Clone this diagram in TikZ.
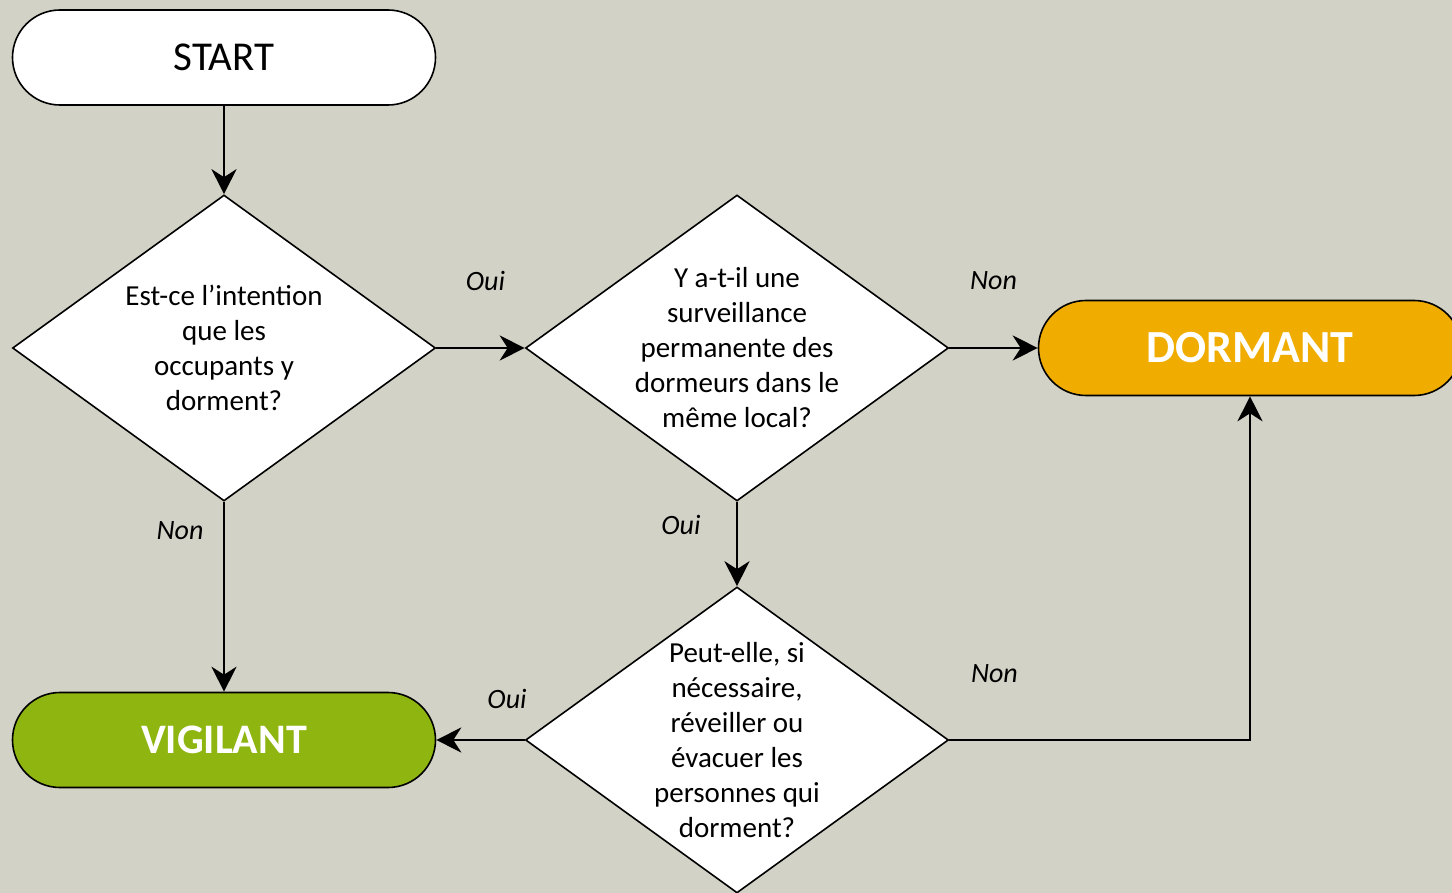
\documentclass[tikz,border=0pt]{standalone}
\usepackage{fontspec}
\setmainfont{Carlito}
\usetikzlibrary{arrows.meta,shapes.geometric,positioning}

\definecolor{bgtan}{RGB}{210,210,198}
\definecolor{dormantorange}{RGB}{240,173,0}
\definecolor{vigilantgreen}{RGB}{142,181,16}

\begin{document}
\begin{tikzpicture}[>={Stealth[length=12.5pt,width=12.5pt,inset=4pt]},line width=1.3pt,
                    term/.style={draw,line width=0.8pt,rounded corners=23.75pt,
                                 minimum width=211.5pt,minimum height=47.5pt,inner sep=0pt},
                    question/.style={diamond,draw,line width=0.8pt,fill=white,
                                     minimum width=211.5pt,minimum height=153pt,inner sep=0pt},
                    qtext/.style={align=center,font=\fontsize{14.5}{17.5}\selectfont},
                    answer/.style={font=\fontsize{14}{17}\selectfont\itshape}]
  \useasboundingbox[fill=bgtan] (0,0) rectangle (726pt,-446.5pt);
  \clip (0,0) rectangle (726pt,-446.5pt);

  \node[term,fill=white,font=\fontsize{20.5}{24}\selectfont] (start) at (112pt,-28.75pt) {START};
  \node[question,below of=start,node distance=145.25pt,
        label={[qtext]center:{Est-ce l’intention\\que les\\occupants y\\dorment?}}] (q1) {};
  \node[question,right of=q1,node distance=256.5pt,
        label={[qtext]center:{Y a-t-il une\\surveillance\\permanente des\\dormeurs dans le\\même local?}}] (q2) {};
  \node[term,fill=dormantorange,text=white,font=\fontsize{23}{27}\selectfont\bfseries,
        right of=q2,node distance=256.5pt] (dormant) {DORMANT};
  \node[question,below of=q2,node distance=196pt,
        label={[qtext]center:{Peut-elle, si\\nécessaire,\\réveiller ou\\évacuer les\\personnes qui\\dorment?}}] (q3) {};
  \node[term,fill=vigilantgreen,text=white,font=\fontsize{21}{25}\selectfont\bfseries,
        below of=q1,node distance=196pt] (vigilant) {VIGILANT};

  \draw[->] (start) -- (q1);
  \draw[->] (q1) -- node[answer,yshift=33.5pt,xshift=2.5pt] {Oui} (q2);
  \draw[->] (q2) -- node[answer,yshift=33.5pt] {Non} (dormant);
  \draw[->] (q1) -- node[answer,pos=0.15,xshift=-22pt] {Non} (vigilant);
  \draw[->] (q2) -- node[answer,pos=0.27,xshift=-28pt] {Oui} (q3);
  \draw[->] (q3) -- node[answer,pos=0.2,yshift=20.5pt] {Oui} (vigilant);
  \draw[->] (q3) -| node[answer,pos=0.075,yshift=33pt] {Non} (dormant);
\end{tikzpicture}
\end{document}
